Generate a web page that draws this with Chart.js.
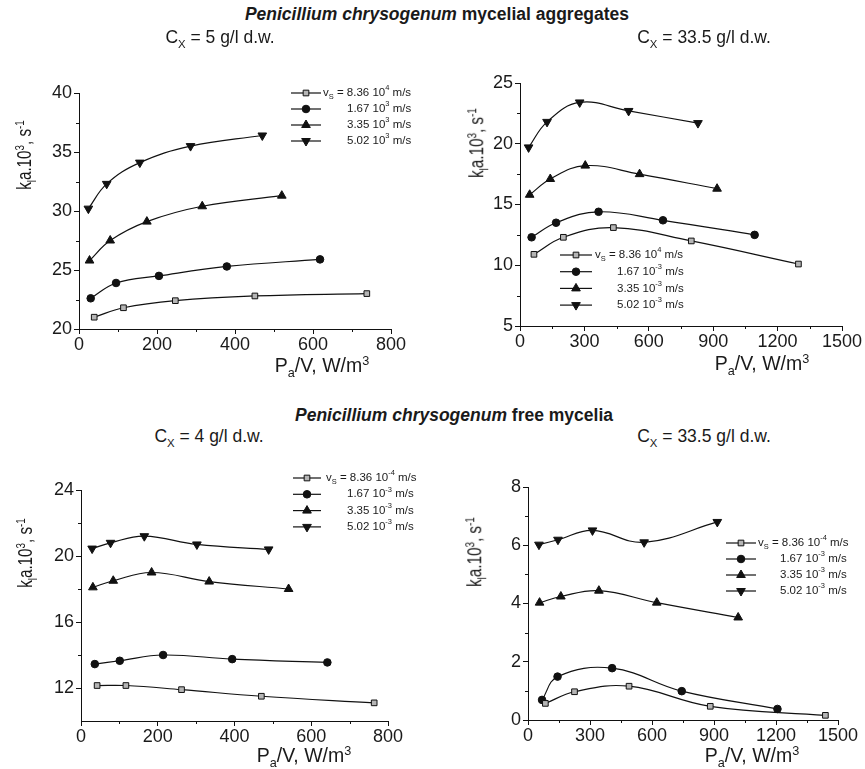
<!DOCTYPE html>
<html>
<head>
<meta charset="utf-8">
<script src="https://cdn.jsdelivr.net/npm/chart.js@4"></script>
<style>
  body { margin:0; background:#fff; font-family:"Liberation Sans", Arial, sans-serif; color:#1a1a1a; }
  #wrap { position:relative; width:865px; height:769px; overflow:hidden; }
  canvas { position:absolute; }
  .t { position:absolute; white-space:nowrap; transform:translate(-50%,-50%); line-height:1; z-index:2; }
  .t sub, .t sup { font-size:65%; line-height:0; }
  .yt { transform:translate(-50%,-50%) rotate(-90deg) scaleX(0.78); }
  .head { font-size:17.5px; font-weight:bold; }
  .cx { font-size:17.5px; }
  .ax { font-size:19.5px; }
</style>
</head>
<body>
<div id="wrap">
  <div class="t head" style="left:437px;top:15px"><i>Penicillium chrysogenum</i> mycelial aggregates</div>
  <div class="t cx" style="left:220px;top:38px">C<sub>X</sub> = 5 g/l d.w.</div>
  <div class="t cx" style="left:704px;top:38px">C<sub>X</sub> = 33.5 g/l d.w.</div>
  <div class="t head" style="left:454px;top:416px"><i>Penicillium chrysogenum</i> free mycelia</div>
  <div class="t cx" style="left:209px;top:437px">C<sub>X</sub> = 4 g/l d.w.</div>
  <div class="t cx" style="left:704px;top:437px">C<sub>X</sub> = 33.5 g/l d.w.</div>

  <div class="t ax" style="left:322px;top:366px">P<sub>a</sub>/V, W/m<sup>3</sup></div>
  <div class="t ax" style="left:762px;top:364px">P<sub>a</sub>/V, W/m<sup>3</sup></div>
  <div class="t ax" style="left:304px;top:756px">P<sub>a</sub>/V, W/m<sup>3</sup></div>
  <div class="t ax" style="left:752px;top:756px">P<sub>a</sub>/V, W/m<sup>3</sup></div>

  <div class="t ax yt" style="left:25px;top:155px">k<sub>l</sub>a.10<sup>3</sup>, s<sup>-1</sup></div>
  <div class="t ax yt" style="left:477px;top:143px">k<sub>l</sub>a.10<sup>3</sup>, s<sup>-1</sup></div>
  <div class="t ax yt" style="left:26px;top:553px">k<sub>l</sub>a.10<sup>3</sup>, s<sup>-1</sup></div>
  <div class="t ax yt" style="left:475px;top:552px">k<sub>l</sub>a.10<sup>3</sup>, s<sup>-1</sup></div>

  <canvas id="c1" width="432" height="330" style="left:0;top:50px"></canvas>
  <canvas id="c2" width="433" height="330" style="left:432px;top:50px"></canvas>
  <canvas id="c3" width="432" height="319" style="left:0;top:450px"></canvas>
  <canvas id="c4" width="433" height="319" style="left:432px;top:450px"></canvas>
</div>
<script>
Chart.defaults.font.family = '"Liberation Sans", Arial, sans-serif';
Chart.defaults.color = '#1a1a1a';

// superficial gas velocity series (legend)
const VS      = ['8.36', '1.67', '3.35', '5.02'];
const MARKERS = ['rect', 'circle', 'triangle', 'triangle'];
const ROT     = [0, 0, 0, 180];

// mycelial aggregates, Cx = 5 g/l
const agg5X = [[39,114,247,451,738],[30,95,205,379,618],[27,80,174,316,520],[24,71,156,286,470]];
const agg5Y = [[21.0,21.8,22.4,22.8,23.0],[22.6,23.9,24.5,25.3,25.9],[25.8,27.5,29.1,30.4,31.3],[30.2,32.3,34.1,35.5,36.4]];
const agg5Exp = ['4','3','3','3'];

// mycelial aggregates, Cx = 33.5 g/l
const agg33X = [[65,202,435,798,1297],[54,168,366,666,1093],[45,141,304,557,918],[40,126,278,506,829]];
const agg33Y = [[10.9,12.3,13.1,12.0,10.1],[12.3,13.5,14.4,13.7,12.5],[15.8,17.1,18.2,17.5,16.3],[19.7,21.8,23.4,22.7,21.7]];
const agg33Exp = ['4','-3','-3','-3'];

// free mycelia, Cx = 4 g/l
const free4X = [[42,117,262,470,764],[36,101,214,394,642],[31,84,184,334,541],[29,77,165,302,489]];
const free4Y = [[12.15,12.15,11.9,11.5,11.1],[13.45,13.65,14.0,13.75,13.55],[18.1,18.5,19.0,18.45,18.0],[20.45,20.8,21.2,20.7,20.4]];
const free4Exp = ['-4','-3','-3','-3'];
const free4YTicks = [12, 16, 20, 24];

// free mycelia, Cx = 33.5 g/l
const free33X = [[84,225,489,882,1439],[68,143,407,744,1207],[56,159,343,623,1017],[53,145,312,562,916]];
const free33Y = [[0.57,0.97,1.16,0.47,0.16],[0.69,1.49,1.78,0.99,0.38],[4.03,4.24,4.44,4.03,3.52],[6.02,6.19,6.51,6.1,6.8]];
const free33Exp = ['-4','-3','-3','-3'];

function drawRich(ctx, parts, x, y, size) {
  ctx.textBaseline = 'middle';
  ctx.textAlign = 'left';
  parts.forEach(([txt, mode]) => {
    const fs = mode ? size * 0.65 : size;
    ctx.font = fs + 'px "Liberation Sans", Arial, sans-serif';
    const dy = mode === 'sub' ? size * 0.3 : mode === 'sup' ? -size * 0.42 : 0;
    ctx.fillText(txt, x, y + dy);
    x += ctx.measureText(txt).width;
  });
}

const decor = {
  id: 'decor',
  afterDraw(chart, args, o) {
    const ctx = chart.ctx;
    ctx.save();
    ctx.strokeStyle = '#111';
    ctx.lineWidth = 1;
    // minor ticks halfway between majors
    ['x', 'y'].forEach(id => {
      const s = chart.scales[id];
      const t = s.ticks.map(k => k.value);
      ctx.beginPath();
      for (let i = 0; i < t.length - 1; i++) {
        const p = Math.round(s.getPixelForValue((t[i] + t[i + 1]) / 2)) + 0.5;
        if (id === 'x') { ctx.moveTo(p, s.top); ctx.lineTo(p, s.top + 3); }
        else { ctx.moveTo(s.right, p); ctx.lineTo(s.right - 3, p); }
      }
      ctx.stroke();
    });
    // legend
    chart.data.datasets.forEach((ds, i) => {
      const y = o.y + i * o.dy;
      ctx.strokeStyle = '#111';
      ctx.lineWidth = 1.2;
      ctx.beginPath();
      ctx.moveTo(o.x, y); ctx.lineTo(o.x + o.w, y);
      ctx.stroke();
      const el = chart.getDatasetMeta(i).data[0].options;
      ctx.fillStyle = el.backgroundColor;
      ctx.strokeStyle = el.borderColor;
      ctx.lineWidth = el.borderWidth;
      Chart.helpers.drawPoint(ctx, { pointStyle: el.pointStyle, rotation: el.rotation, radius: el.radius, borderWidth: el.borderWidth }, o.x + o.w / 2, y);
      ctx.fillStyle = '#1a1a1a';
      const parts = i === 0
        ? [['v', ''], ['S', 'sub'], [' = ' + VS[i] + ' 10', ''], [o.exp[i], 'sup'], [' m/s', '']]
        : [[VS[i] + ' 10', ''], [o.exp[i], 'sup'], [' m/s', '']];
      drawRich(ctx, parts, i === 0 ? o.tx0 : o.tx, y, 11.5);
    });
    ctx.restore();
  }
};

function makeChart(id, xs, ys, cfg) {
  const datasets = xs.map((col, i) => ({
    data: col.map((x, j) => ({ x, y: ys[i][j] })),
    borderColor: '#111',
    borderWidth: 1.2,
    tension: 0.4,
    pointStyle: MARKERS[i],
    rotation: ROT[i],
    pointRadius: i === 0 ? 4 : (i === 1 ? 3.8 : 5),
    pointBackgroundColor: i === 0 ? '#b5b5b5' : '#111',
    pointBorderColor: '#111',
    pointBorderWidth: 1,
    clip: false,
  }));
  const tickFont = { size: 18 };
  new Chart(document.getElementById(id), {
    type: 'line',
    data: { datasets },
    plugins: [decor],
    options: {
      responsive: false, animation: false,
      layout: { padding: { left: 0, top: cfg.top, right: cfg.right, bottom: 0 } },
      plugins: { legend: { display: false }, tooltip: { enabled: false }, decor: cfg.legend },
      scales: {
        x: {
          type: 'linear', min: cfg.x[0], max: cfg.x[1],
          ticks: { stepSize: cfg.x[2], padding: 0, font: tickFont, color: '#1a1a1a', maxRotation: 0, autoSkip: false, callback: v => String(v) },
          grid: { drawOnChartArea: false, tickLength: 5, color: '#111' },
          border: { color: '#111', width: 1 },
          afterFit: s => { s.height = cfg.xh; },
        },
        y: {
          min: cfg.y[0], max: cfg.y[1],
          ticks: { stepSize: cfg.y[2], padding: 2, font: tickFont, color: '#1a1a1a', autoSkip: false, callback: v => String(v) },
          grid: { drawOnChartArea: false, tickLength: 5, color: '#111' },
          border: { color: '#111', width: 1 },
          afterFit: s => { s.width = cfg.yw; },
          afterBuildTicks: cfg.yTicks ? s => { s.ticks = cfg.yTicks.map(v => ({ value: v })); } : undefined,
        },
      },
    },
  });
}

makeChart('c1', agg5X, agg5Y, {
  x: [0, 800, 200], y: [20, 40, 5], yw: 79, xh: 51, top: 43, right: 41,
  legend: { x: 291, y: 43, dy: 16, w: 30, tx0: 323, tx: 347, exp: agg5Exp },
});
makeChart('c2', agg33X, agg33Y, {
  x: [0, 1500, 300], y: [5, 25, 5], yw: 88, xh: 54, top: 33, right: 23,
  legend: { x: 128, y: 205, dy: 16.7, w: 32, tx0: 163, tx: 185, exp: agg33Exp },
});
makeChart('c3', free4X, free4Y, {
  x: [0, 800, 200], y: [10, 24, 4], yw: 81, xh: 48, top: 40, right: 44, yTicks: free4YTicks,
  legend: { x: 293, y: 28, dy: 16.3, w: 28, tx0: 326, tx: 347, exp: free4Exp },
});
makeChart('c4', free33X, free33Y, {
  x: [0, 1500, 300], y: [0, 8, 2], yw: 96, xh: 49, top: 37, right: 27,
  legend: { x: 294, y: 93, dy: 16, w: 30, tx0: 326, tx: 348, exp: free33Exp },
});
</script>
</body>
</html>
